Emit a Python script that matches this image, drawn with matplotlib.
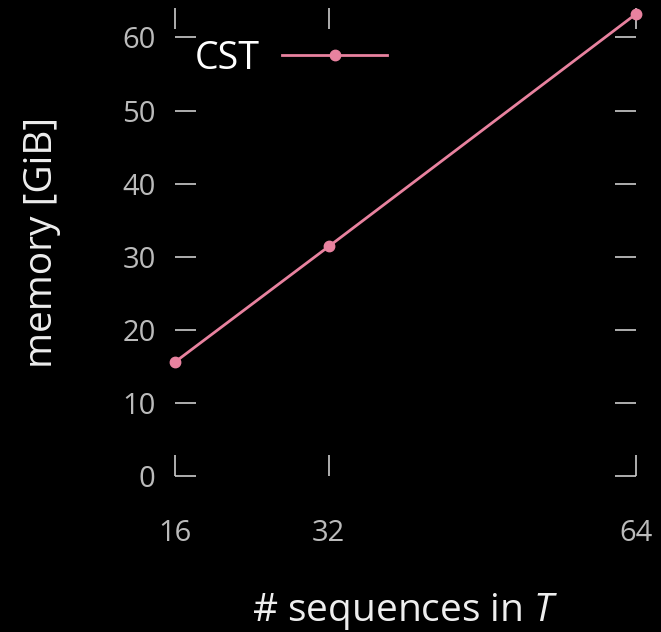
import matplotlib
matplotlib.use("Agg")
import matplotlib.pyplot as plt

sequences = [16, 32, 64]
memory_gib = [15.6, 31.4, 63.2]
yticks = [0, 10, 20, 30, 40, 50, 60]

plt.rcParams["font.family"] = ["Open Sans", "DejaVu Sans"]
plt.rcParams["mathtext.fontset"] = "custom"
plt.rcParams["mathtext.it"] = "Open Sans:italic"

fig = plt.figure(figsize=(6.61, 6.32), dpi=100, facecolor="black")
ax = fig.add_axes([0.265, 0.247, 0.697, 0.740], facecolor="black")
ax.plot(sequences, memory_gib, color="#e8829f", lw=2, marker="o", ms=7.5, label="CST", clip_on=False)
ax.set_xlim(16, 64)
ax.set_ylim(0, 64)
ax.set_xticks(sequences)
ax.set_yticks(yticks)
for s in ax.spines.values():
    s.set_visible(False)
ax.tick_params(axis="both", which="both", direction="in", length=15, width=1.2,
               color="#cccccc", labelcolor="#bbbbbb", labelsize=21,
               top=True, right=True)
ax.tick_params(axis="x", pad=31)
ax.tick_params(axis="y", pad=14)
ax.set_xlabel("# sequences in $T$", color="#eeeeee", fontsize=28, labelpad=31)
ax.set_ylabel("memory [GiB]", color="#eeeeee", fontsize=28, labelpad=44)
leg = ax.legend(loc="upper left", frameon=False, fontsize=27, labelcolor="white",
                markerfirst=False, handlelength=2.8, handletextpad=0.6,
                borderaxespad=0.0, bbox_to_anchor=(0.01, 0.965))
fig.savefig("out.png", dpi=100, facecolor="black")
